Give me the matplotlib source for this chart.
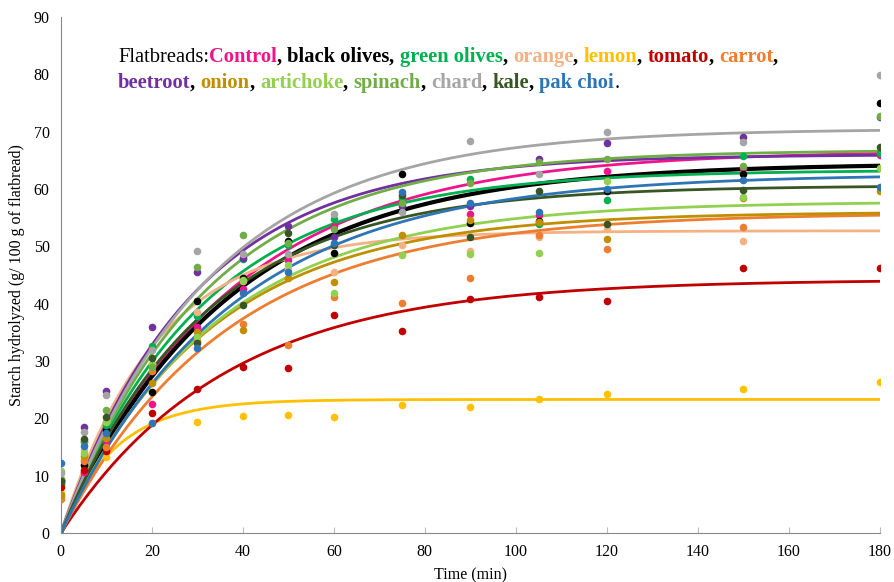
import numpy as np
import matplotlib.pyplot as plt

plt.rcParams['font.family'] = ['Liberation Serif', 'DejaVu Serif']

# tiempos de muestreo (min)
times = [0, 5, 10, 20, 30, 40, 50, 60, 75, 90, 105, 120, 150, 180]

names = ['Control', 'black olives', 'green olives', 'orange', 'lemon', 'tomato', 'carrot',
         'beetroot', 'onion', 'artichoke', 'spinach', 'chard', 'kale', 'pak choi']
colors = ['#F0148C', '#000000', '#00B050', '#F4B183', '#FFC000', '#C00000', '#ED7D31',
          '#7030A0', '#BF8F00', '#92D050', '#70AD47', '#A5A5A5', '#375623', '#2E75B6']

nan = np.nan
control = [8.5, 10.7, 16.1, 22.5, 36.0, 42.5, 47.7, 53.5, 57.5, 55.6, 55.4, 63.2, 63.6, 66.0]
black_olives = [9.2, 11.9, 18.0, 24.6, 40.5, 44.5, 51.0, 48.8, 62.6, 54.0, 54.4, 59.7, 62.6, 75.0]
green_olives = [8.8, 15.9, 18.8, 32.6, 37.9, 47.8, 50.2, 54.8, 58.5, 61.7, 53.9, 58.1, 65.8, 66.2]
orange = [6.5, 14.5, 19.5, 29.5, 38.6, 44.0, 46.0, 45.6, 50.2, 49.2, 51.6, 53.0, 51.0, nan]
lemon = [7.0, 12.9, 13.3, 19.2, 19.4, 20.5, 20.6, 20.3, 22.3, 22.0, 23.3, 24.2, 25.2, 26.3]
tomato = [8.0, 11.0, 14.4, 20.9, 25.2, 29.0, 28.7, 38.0, 35.3, 40.8, 41.1, 40.5, 46.3, 46.3]
carrot = [6.0, 12.5, 15.0, 28.3, 33.5, 36.5, 32.8, 41.1, 40.2, 44.4, 52.0, 49.5, 53.3, nan]
beetroot = [9.0, 18.5, 24.8, 35.9, 45.5, 48.0, 53.5, 51.6, 57.0, 57.0, 65.2, 68.0, 69.1, 72.5]
onion = [6.6, 13.5, 16.5, 26.2, 35.0, 35.4, 44.4, 43.8, 51.9, 54.6, 54.2, 51.3, 58.4, 59.7]
artichoke = [10.8, 14.0, 19.4, 29.5, 34.2, 44.2, 46.7, 41.9, 48.5, 48.6, 48.8, 61.4, 58.6, 63.6]
spinach = [9.5, 16.0, 21.5, 29.0, 46.4, 52.0, 50.5, 53.1, 57.5, 61.0, 64.7, 65.2, 64.0, 72.8]
chard = [10.5, 17.7, 24.1, 31.9, 49.2, 48.6, 48.6, 55.6, 55.9, 68.4, 62.6, 70.0, 68.1, 79.8]
kale = [9.0, 16.4, 20.3, 30.6, 33.2, 39.8, 52.3, 50.2, 59.0, 51.6, 59.7, 53.9, 59.8, 67.4]
pak_choi = [12.3, 15.1, 17.5, 19.2, 32.2, 41.9, 45.5, 50.5, 59.4, 57.6, 55.9, 60.0, 61.5, 60.3]

series = [control, black_olives, green_olives, orange, lemon, tomato, carrot,
          beetroot, onion, artichoke, spinach, chard, kale, pak_choi]

# ajuste de primer orden C = Cinf*(1-exp(-k t))
c_inf = [66.7, 64.5, 63.3, 52.7, 23.3, 44.2, 55.8, 66.0, 56.0, 57.8, 66.8, 70.5, 60.6, 62.6]
k_rate = [0.0271, 0.0275, 0.0319, 0.048, 0.085, 0.0277, 0.0277, 0.0343, 0.0309, 0.0297,
          0.0315, 0.0306, 0.0318, 0.0269]

fig = plt.figure(figsize=(8.95, 5.82), dpi=100)
ax = fig.add_axes([0.068, 0.084, 0.915, 0.887])

tt = np.linspace(0, 180, 300)
for i in range(len(names)):
    ax.scatter(times, series[i], s=30, color=colors[i], zorder=3, linewidths=0)
for i in range(len(names)):
    lw = 3.0 if names[i] == 'black olives' else 2.0
    ax.plot(tt, c_inf[i] * (1 - np.exp(-k_rate[i] * tt)), color=colors[i], lw=lw, zorder=2)

ax.set_xlim(0, 180)
ax.set_ylim(0, 90)
ax.set_xticks(range(0, 181, 20))
ax.set_yticks(range(0, 91, 10))
for s in ['top', 'right']:
    ax.spines[s].set_visible(False)
for s in ['left', 'bottom']:
    ax.spines[s].set_color('#888888')
ax.tick_params(axis='x', direction='in', length=4, color='#BBBBBB', labelsize=11.5, pad=8)
ax.tick_params(axis='y', direction='in', length=0, labelsize=11.5, pad=8)
ax.set_xlabel('Time (min)', fontsize=11.5, labelpad=5)
ax.set_ylabel('Starch hydrolyzed (g/ 100 g of flatbread)', fontsize=11.5, labelpad=6)

# texto multicolor
fig.canvas.draw()
renderer = fig.canvas.get_renderer()
pieces1 = [('Flatbreads:', 'black', 'normal')]
for i in range(7):
    pieces1.append((names[i], colors[i], 'bold'))
    pieces1.append((', ', 'black', 'bold'))
pieces2 = []
for i in range(7, 14):
    pieces2.append((names[i], colors[i], 'bold'))
    pieces2.append((', ' if i < 13 else '.', 'black', 'bold' if i < 13 else 'normal'))

for pieces, ypx in [(pieces1, 62), (pieces2, 88)]:
    x = 118
    for txt, col, wt in pieces:
        t = fig.text(x / 895, 1 - ypx / 582, txt, color=col, fontweight=wt,
                     fontsize=14.8, va='baseline', ha='left')
        bb = t.get_window_extent(renderer=renderer)
        x += bb.width

fig.savefig('out.png', dpi=100)
